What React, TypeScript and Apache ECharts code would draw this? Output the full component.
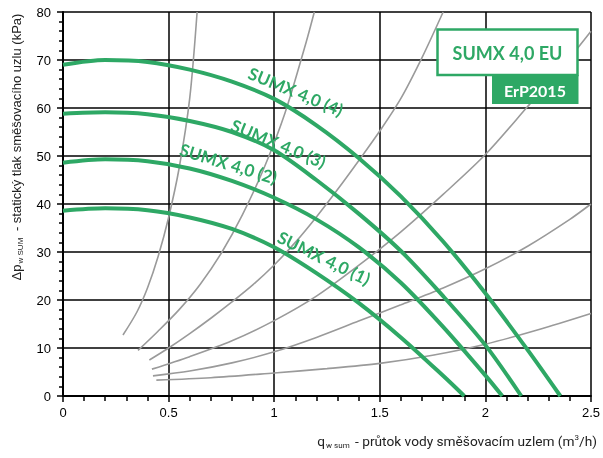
import React, { useEffect, useRef } from "react";
import * as echarts from "echarts";

// Pump curves SUMX 4,0 (1..4): [flow m3/h, pressure kPa]
const pump1 = [[0, 38.6], [0.2, 39.1], [0.4, 38.7], [0.6, 37.2], [0.8, 34.8], [1.0, 31.0], [1.2, 25.6], [1.4, 19.4], [1.6, 12.2], [1.8, 4.2], [1.9, 0]];
const pump2 = [[0, 48.6], [0.2, 49.3], [0.4, 48.9], [0.6, 47.4], [0.8, 44.8], [1.0, 41.3], [1.2, 36.8], [1.4, 31.0], [1.6, 23.6], [1.8, 14.4], [2.0, 4.3], [2.08, 0]];
const pump3 = [[0, 58.8], [0.2, 59.1], [0.4, 58.7], [0.6, 57.3], [0.8, 55.0], [1.0, 51.2], [1.2, 45.0], [1.4, 38.0], [1.6, 30.2], [1.8, 20.8], [2.0, 10.6], [2.17, 0]];
const pump4 = [[0, 69.0], [0.2, 70.0], [0.4, 69.6], [0.6, 68.0], [0.8, 65.5], [1.0, 61.9], [1.2, 56.4], [1.4, 49.6], [1.6, 41.6], [1.8, 32.2], [2.0, 21.4], [2.2, 9.6], [2.355, 0]];

// System (valve) curves, grey
const sys1 = [[0.284, 12.7], [0.35, 17.5], [0.4, 22.5], [0.45, 29], [0.5, 37.2], [0.55, 47.5], [0.6, 62], [0.635, 80]];
const sys2 = [[0.355, 9.5], [0.45, 13.5], [0.55, 18.0], [0.65, 23.3], [0.75, 29.8], [0.85, 37.8], [0.95, 47.3], [1.05, 58.8], [1.15, 73.5], [1.19, 80]];
const sys3 = [[0.409, 7.5], [0.5, 10], [0.6, 13], [0.7, 16.2], [0.8, 19.6], [0.9, 23.2], [1.0, 27.3], [1.1, 32.0], [1.2, 37.3], [1.3, 43], [1.4, 49], [1.5, 55.2], [1.6, 62], [1.7, 70.5], [1.8, 80]];
const sys4 = [[0.421, 5.6], [0.6, 8.2], [0.8, 11.5], [1.0, 15.7], [1.2, 20.8], [1.4, 27.2], [1.6, 34.2], [1.8, 42], [2.0, 50.3], [2.2, 60.3], [2.4, 70.5], [2.5, 76]];
const sys5 = [[0.426, 4.2], [0.6, 5.2], [0.8, 6.9], [1.0, 9.2], [1.2, 12.2], [1.4, 15.6], [1.6, 19.0], [1.8, 22.5], [2.0, 26.5], [2.2, 31.2], [2.4, 36.8], [2.5, 40]];
const sys6 = [[0.442, 3.3], [0.7, 3.8], [1.0, 4.8], [1.25, 5.7], [1.5, 6.8], [1.75, 8.5], [2.0, 10.8], [2.25, 13.8], [2.5, 17.2]];

const pumpNames = ["SUMX 4,0 (1)", "SUMX 4,0 (2)", "SUMX 4,0 (3)", "SUMX 4,0 (4)"];
const pumpSeries = [pump1, pump2, pump3, pump4];
const sysSeries = [sys1, sys2, sys3, sys4, sys5, sys6];

const GREEN = "#2ea865";

export default function App() {
  const ref = useRef<HTMLDivElement>(null);
  useEffect(() => {
    if (!ref.current) return;
    const chart = echarts.init(ref.current, undefined, { renderer: "svg" });
    const labelFont = { fontFamily: "Lato", fontWeight: "bold" as const, fontSize: 17, fill: GREEN };
    const curveLabels = [
      { text: pumpNames[0], x: 324, y: 258, rot: -26 },
      { text: pumpNames[1], x: 228.5, y: 163.5, rot: -17 },
      { text: pumpNames[2], x: 278.5, y: 143.5, rot: -22.5 },
      { text: pumpNames[3], x: 295.8, y: 91.5, rot: -22.5 },
    ];
    chart.setOption({
      animation: false,
      grid: { left: 63, top: 12, width: 530, height: 384 },
      xAxis: {
        type: "value",
        min: 0,
        max: 2.5,
        interval: 0.5,
        axisLine: { show: true, onZero: false, lineStyle: { color: "#000", width: 2 } },
        axisTick: { show: true, length: 6, lineStyle: { color: "#000", width: 1.5 } },
        minorTick: { show: true, splitNumber: 5, length: 5, lineStyle: { color: "#000", width: 1.5 } },
        splitLine: { show: true, lineStyle: { color: "#000", width: 1.5 } },
        axisLabel: { color: "#000", fontFamily: "Liberation Sans", fontSize: 13, margin: 10 },
      },
      yAxis: {
        type: "value",
        min: 0,
        max: 80,
        interval: 10,
        axisLine: { show: true, onZero: false, lineStyle: { color: "#000", width: 2 } },
        axisTick: { show: true, length: 6, lineStyle: { color: "#000", width: 1.5 } },
        minorTick: { show: true, splitNumber: 5, length: 4, lineStyle: { color: "#000", width: 1.5 } },
        splitLine: { show: true, lineStyle: { color: "#000", width: 1.5 } },
        axisLabel: { color: "#000", fontFamily: "Liberation Sans", fontSize: 13, margin: 12 },
      },
      series: [
        ...sysSeries.map((d, i) => ({
          name: "sys" + (i + 1),
          type: "line",
          data: d,
          smooth: 0.3,
          symbol: "none",
          silent: true,
          lineStyle: { color: "#9a9a9a", width: 1.6 },
          z: 2,
        })),
        ...pumpSeries.map((d, i) => ({
          name: pumpNames[i],
          type: "line",
          data: d,
          smooth: 0.3,
          symbol: "none",
          silent: true,
          lineStyle: { color: GREEN, width: 4 },
          z: 3,
        })),
      ],
      graphic: [
        ...curveLabels.map((l) => ({
          type: "text",
          x: l.x,
          y: l.y,
          rotation: (l.rot * Math.PI) / 180,
          z: 10,
          style: { ...labelFont, text: l.text, align: "center", verticalAlign: "middle" },
        })),
        {
          type: "rect",
          shape: { x: 437.5, y: 29.5, width: 140, height: 45.5 },
          style: { fill: "#fff", stroke: GREEN, lineWidth: 2.5 },
          z: 10,
        },
        {
          type: "text",
          x: 507.5,
          y: 52.5,
          z: 11,
          style: { text: "SUMX 4,0 EU", fontFamily: "Lato", fontWeight: "bold", fontSize: 18, fill: GREEN, align: "center", verticalAlign: "middle" },
        },
        {
          type: "rect",
          shape: { x: 492, y: 75, width: 86.5, height: 29 },
          style: { fill: GREEN },
          z: 10,
        },
        {
          type: "text",
          x: 535,
          y: 90,
          z: 11,
          style: { text: "ErP2015", fontFamily: "Lato", fontWeight: "bold", fontSize: 16, fill: "#fff", align: "center", verticalAlign: "middle" },
        },
        {
          type: "text",
          x: 597,
          y: 441,
          z: 11,
          style: {
            text: "{n|q}{s|w sum}{n| - průtok vody směšovacím uzlem (m}{p|3}{n|/h)}",
            align: "right",
            verticalAlign: "middle",
            rich: {
              n: { fontFamily: "Roboto", fontSize: 13.7, fill: "#222" },
              s: { fontFamily: "Roboto", fontSize: 8, fill: "#222", padding: [8, 2, 0, 1] },
              p: { fontFamily: "Roboto", fontSize: 8, fill: "#222", padding: [0, 0, 7, 0] },
            },
          },
        },
        {
          type: "text",
          x: 16,
          y: 147,
          rotation: Math.PI / 2,
          z: 11,
          style: {
            text: "{n|Δp}{s|w SUM}{n| - statický tlak směšovacího uzlu (kPa)}",
            align: "center",
            verticalAlign: "middle",
            rich: {
              n: { fontFamily: "Liberation Sans", fontSize: 13, fill: "#222" },
              s: { fontFamily: "Liberation Sans", fontSize: 8, fill: "#222", padding: [8, 3, 0, 1] },
            },
          },
        },
      ],
    });
    return () => chart.dispose();
  }, []);
  return <div ref={ref} style={{ position: "fixed", left: 0, top: 0, width: 603, height: 458 }} />;
}
